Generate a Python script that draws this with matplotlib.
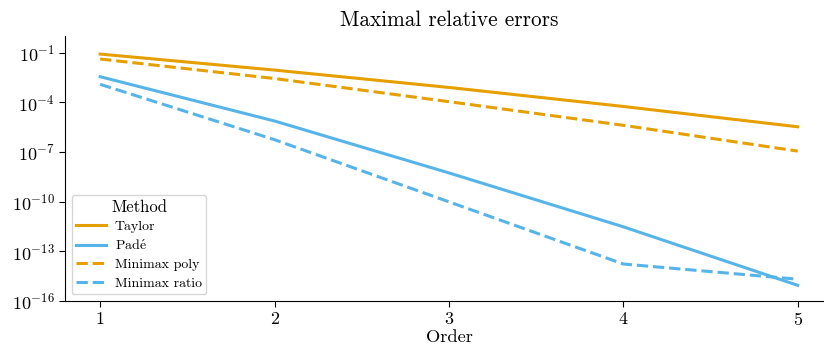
import matplotlib
matplotlib.use("Agg")
import matplotlib.pyplot as plt
import numpy as np

orders = [1, 2, 3, 4, 5]
log_taylor = [-1.08, -2.05, -3.10, -4.25, -5.48]
log_pade = [-2.45, -5.13, -8.27, -11.53, -15.07]
log_minimax_poly = [-1.38, -2.56, -3.96, -5.39, -6.95]
log_minimax_ratio = [-2.91, -6.26, -10.02, -13.78, -14.70]

taylor = [10 ** v for v in log_taylor]
pade = [10 ** v for v in log_pade]
minimax_poly = [10 ** v for v in log_minimax_poly]
minimax_ratio = [10 ** v for v in log_minimax_ratio]

plt.rcParams['font.family'] = ['cmr10', 'DejaVu Serif']
plt.rcParams['mathtext.fontset'] = 'cm'
plt.rcParams['mathtext.rm'] = 'cmr10'
plt.rcParams['axes.formatter.use_mathtext'] = True

orange = '#E69F00'
blue = '#56B4E9'

fig = plt.figure(figsize=(8.24, 3.52), dpi=100)
ax = fig.add_axes([65.3 / 824, (352 - 300.7) / 352, (832.6 - 65.3) / 824, (300.7 - 36.2) / 352])
lw = 2.2
ax.plot(orders, taylor, color=orange, lw=lw, label='Taylor')
ax.plot(orders, pade, color=blue, lw=lw, label=r'Pad$\acute{\mathrm{e}}$')
ax.plot(orders, minimax_poly, color=orange, lw=lw, ls='--', label='Minimax poly')
ax.plot(orders, minimax_ratio, color=blue, lw=lw, ls='--', label='Minimax ratio')
ax.set_yscale('log')
ax.set_ylim(1e-16, 1)
ax.set_xlim(0.8, 5.2)
ax.set_yticks([1e-1, 1e-4, 1e-7, 1e-10, 1e-13, 1e-16])
ax.minorticks_off()
ax.set_xticks(orders)
ax.tick_params(labelsize=13, length=4)
ax.set_xlabel('Order', fontsize=13.3, labelpad=1)
ax.set_title('Maximal relative errors', fontsize=15.3, pad=7)
for s in ['top', 'right']:
    ax.spines[s].set_visible(False)
leg = ax.legend(title='Method', loc='lower left', fontsize=10, title_fontsize=12, handlelength=2.1,
                borderaxespad=0.45, labelspacing=0.4, borderpad=0.35, handletextpad=0.65)
fig.savefig('out.png', dpi=100)
